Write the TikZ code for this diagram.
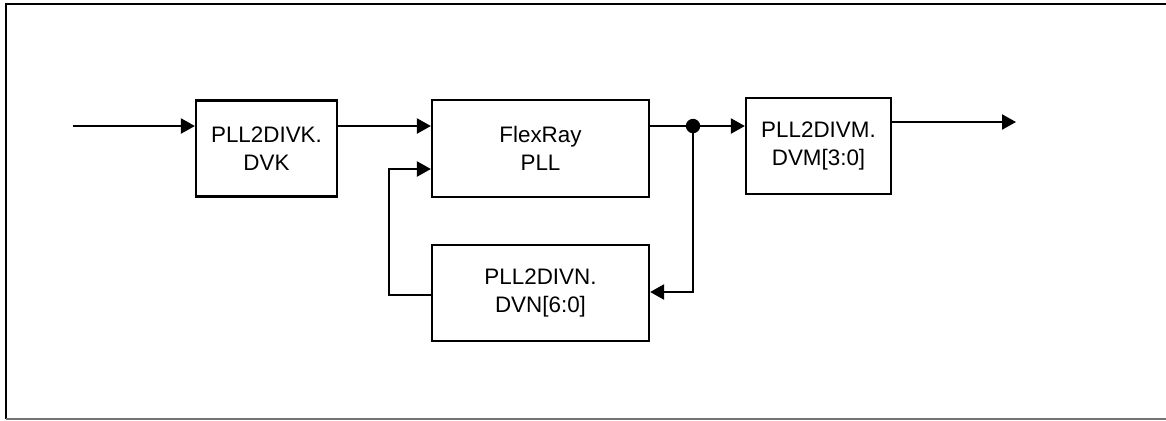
\documentclass[tikz,border=0pt]{standalone}
\usepackage{fontspec}
\setmainfont{Liberation Sans}
\usetikzlibrary{arrows.meta}

\begin{document}
\begin{tikzpicture}[x=0.5pt, y=-0.5pt, >={Triangle[length=7pt,width=7.5pt]},
    block/.style={draw, line width=1.1pt, align=center, font=\fontsize{11.2}{14}\selectfont, inner sep=0pt},
    wire/.style={line width=1.1pt}]
    \useasboundingbox (0,0) rectangle (1166,420);
    \draw[line width=1.2pt] (6,419) -- (6,4) -- (1180,4);
    \draw[line width=1.2pt, black!55] (6,419) -- (1180,419);

    \node[block, minimum width=70.5pt, minimum height=48pt] (divk) at (266.5,148.5) {PLL2DIVK.\\DVK};
    \node[block, minimum width=108.5pt, minimum height=48.5pt] (pll) at (540.5,148.5) {FlexRay\\PLL};
    \node[block, minimum width=108.5pt, minimum height=48pt] (divn) at (540.5,293) {PLL2DIVN.\\DVN[6:0]};
    \node[block, minimum width=72.5pt, minimum height=48pt] (divm) at (818.5,146) {PLL2DIVM.\\DVM[3:0]};

    \coordinate (in) at (73,126);
    \coordinate (out) at (1016,122);
    \coordinate (tap) at (693,126);
    \coordinate (back) at (389,169);

    % main path
    \draw[wire, ->] (in) -- (divk.west |- in);
    \draw[wire, ->] (divk.east |- in) -- (pll.west |- in);
    \draw[wire] (pll.east |- tap) -- (tap);
    \draw[wire, ->] (tap) -- (divm.west |- tap);
    \draw[wire, ->] (divm.east |- out) -- (out);
    \fill (tap) circle (3.6pt);

    % feedback loop
    \draw[wire, ->] (tap) -- (tap |- 0,292) -- (divn.east |- 0,292);
    \draw[wire, ->] (divn.west |- 0,295) -- (back |- 0,295) -- (back) -- (pll.west |- back);
\end{tikzpicture}
\end{document}
